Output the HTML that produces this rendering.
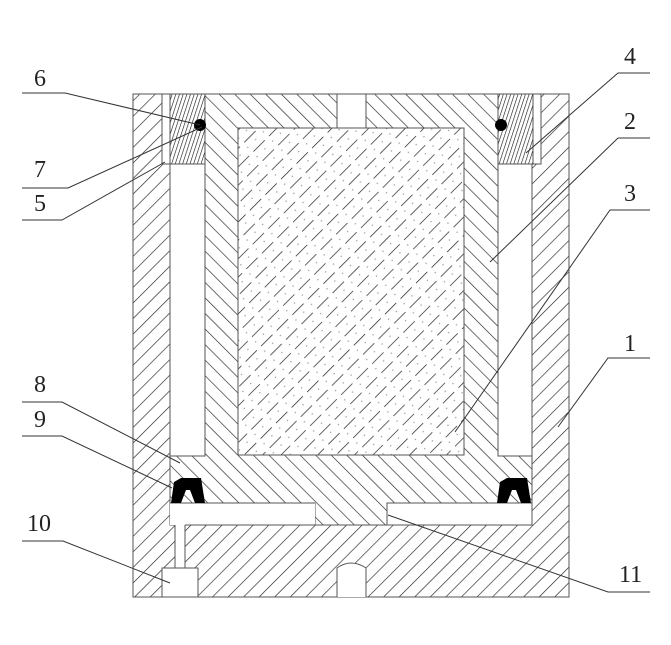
<!DOCTYPE html>
<html><head><meta charset="utf-8"><style>
html,body{margin:0;padding:0;background:#fff}
svg{display:block}
text{font-family:"Liberation Serif",serif;font-size:24px;fill:#222}
</style></head><body>
<svg width="671" height="645" viewBox="0 0 671 645" xmlns="http://www.w3.org/2000/svg">
<defs>
<pattern id="hA" patternUnits="userSpaceOnUse" width="11" height="11" patternTransform="rotate(45)">
<rect width="11" height="11" fill="#fff"/><line x1="0" y1="0" x2="0" y2="11" stroke="#222" stroke-width="1.3"/></pattern>
<pattern id="hB" patternUnits="userSpaceOnUse" width="11" height="11" patternTransform="rotate(-45)">
<rect width="11" height="11" fill="#fff"/><line x1="0" y1="0" x2="0" y2="11" stroke="#222" stroke-width="1.3"/></pattern>
<pattern id="hR" patternUnits="userSpaceOnUse" width="3.5" height="4" patternTransform="rotate(18)">
<rect width="3.5" height="4" fill="#fff"/><line x1="0" y1="0" x2="0" y2="4" stroke="#111" stroke-width="1.2"/></pattern>
<pattern id="hC" patternUnits="userSpaceOnUse" width="13" height="22" patternTransform="rotate(45)">
<rect width="13" height="22" fill="#fff"/><line x1="0" y1="0" x2="0" y2="16" stroke="#222" stroke-width="1.4"/><circle cx="6.5" cy="6" r="0.7" fill="#999"/><circle cx="6.5" cy="17" r="0.7" fill="#999"/></pattern>
</defs>
<g stroke="#555" stroke-width="1">
<rect x="133" y="94" width="436" height="503" fill="url(#hA)"/>
<rect x="162" y="94" width="379" height="70" fill="#fff"/>
<rect x="170" y="94" width="362" height="431" fill="#fff"/>
<rect x="170" y="94" width="35" height="70" fill="url(#hR)"/>
<rect x="498" y="94" width="35" height="70" fill="url(#hR)"/>
<path d="M205 94 H498 V456 H532 V503 H387 V525 H315 V503 H170 V456 H205 Z" fill="url(#hB)"/>
<rect x="337" y="94" width="29" height="34" fill="#fff"/>
<rect x="238" y="128" width="226" height="327" fill="url(#hC)"/>
<path d="M170 503 H315 V525 H185 V568 H175 V525 H170 Z" fill="#fff" stroke="none"/>
<path d="M387 503 H532 V525 H387 Z" fill="#fff"/>
<line x1="170" y1="503" x2="315" y2="503"/><line x1="185" y1="525" x2="315" y2="525"/>
<line x1="175" y1="525" x2="175" y2="568"/><line x1="185" y1="525" x2="185" y2="568"/>
<rect x="162" y="568" width="36" height="29" fill="#fff"/>
<path d="M337 597 V568 Q351 558 366 568 V597" fill="#fff"/>
</g>
<path d="M171 503 L174 482 L181 478 L201 478 L205 503 L195 503 L190 490 L186 490 L181 503 Z" fill="#000"/>
<path d="M497 503 L500 482 L507 478 L527 478 L531 503 L521 503 L516 490 L512 490 L507 503 Z" fill="#000"/>
<circle cx="200" cy="125" r="6" fill="#000"/>
<circle cx="501" cy="125" r="6" fill="#000"/>
<g stroke="#333" stroke-width="1" fill="none">
<polyline points="22,93 65,93 200,125"/>
<polyline points="22,188 68,188 202,127"/>
<polyline points="22,220 62,220 165,162"/>
<polyline points="650,73 618,73 526,153"/>
<polyline points="650,138 618,138 490,262"/>
<polyline points="650,210 610,210 455,432"/>
<polyline points="650,358 608,358 558,427"/>
<polyline points="22,402 62,402 180,463"/>
<polyline points="22,436 62,436 172,488"/>
<polyline points="22,541 63,541 170,583"/>
<polyline points="650,592 608,592 388,515"/>
</g>
<text x="34" y="86">6</text>
<text x="34" y="177">7</text>
<text x="34" y="211">5</text>
<text x="34" y="392">8</text>
<text x="34" y="427">9</text>
<text x="27" y="531">10</text>
<text x="624" y="64">4</text>
<text x="624" y="129">2</text>
<text x="624" y="201">3</text>
<text x="624" y="351">1</text>
<text x="619" y="582">11</text>
</svg>
</body></html>
